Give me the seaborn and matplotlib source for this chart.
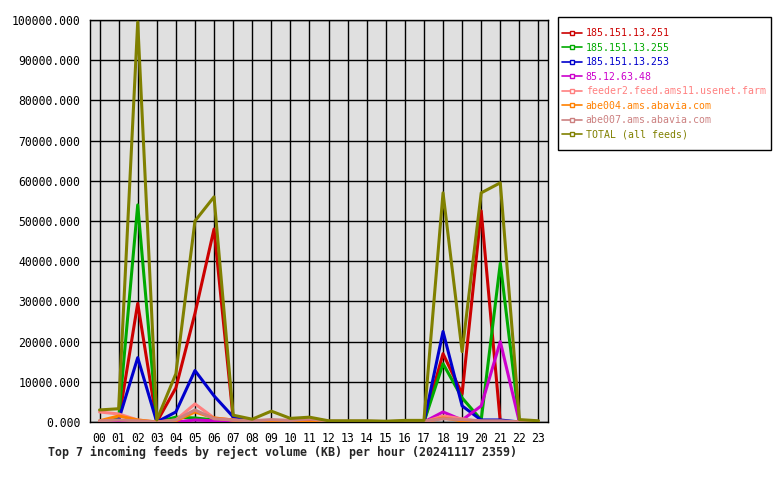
import numpy as np
import pandas as pd
import seaborn as sns
import matplotlib.pyplot as plt
from matplotlib.lines import Line2D
from matplotlib.patches import Rectangle

# hours of the day (x axis)
hours = ["%02d" % h for h in range(24)]

feeds = ["185.151.13.251", "185.151.13.255", "185.151.13.253", "85.12.63.48",
         "feeder2.feed.ams11.usenet.farm", "abe004.ams.abavia.com",
         "abe007.ams.abavia.com", "TOTAL (all feeds)"]
colors = ["#cc0000", "#00aa00", "#0000cc", "#cc00cc",
          "#ff8080", "#ff8000", "#cc8080", "#808000"]

# reject volume in KB per hour
v_251 = [0, 300, 29500, 0, 8500, 27000, 48000, 1000, 0, 0, 0, 0,
         0, 0, 0, 0, 0, 0, 17000, 7000, 52500, 0, 0, 0]
v_255 = [0, 800, 54000, 0, 1200, 1000, 500, 500, 0, 0, 0, 0,
         0, 0, 0, 0, 0, 0, 14500, 6000, 500, 39500, 0, 0]
v_253 = [0, 500, 16000, 0, 2500, 12800, 6500, 1300, 0, 0, 0, 0,
         0, 0, 0, 0, 0, 0, 22500, 4000, 500, 500, 0, 0]
v_85 = [0, 0, 0, 0, 0, 500, 300, 0, 0, 300, 0, 0,
        0, 0, 0, 0, 0, 0, 2500, 500, 4000, 20000, 0, 0]
v_feeder2 = [2500, 2000, 500, 0, 500, 4500, 1000, 500, 0, 0, 0, 0,
             0, 0, 0, 0, 0, 0, 1500, 800, 0, 0, 0, 0]
v_abe004 = [300, 1500, 500, 0, 300, 2500, 1000, 500, 0, 0, 0, 0,
            0, 0, 0, 0, 0, 0, 1000, 300, 0, 0, 0, 0]
v_abe007 = [300, 500, 300, 0, 500, 3000, 800, 500, 300, 600, 400, 800,
            200, 200, 200, 100, 200, 200, 800, 600, 300, 300, 0, 0]
v_total = [3000, 3300, 99500, 500, 12000, 50000, 56000, 1700, 700, 2700, 900, 1200,
           300, 300, 300, 200, 400, 400, 57000, 17500, 57000, 59500, 600, 300]

series = [v_251, v_255, v_253, v_85, v_feeder2, v_abe004, v_abe007, v_total]

rows = []
for name, vals in zip(feeds, series):
    for h, v in enumerate(vals):
        rows.append((name, h, v))
df = pd.DataFrame(rows, columns=["feed", "hour", "kb"])

sns.set_style("white")
plt.rcParams['font.family'] = ['DejaVu Sans Mono']

fig = plt.figure(figsize=(7.8, 4.8), dpi=100)
ax = fig.add_axes([90/780, 1-422/480, 458/780, 402/480])
ax.set_facecolor("#e0e0e0")

sns.lineplot(data=df, x="hour", y="kb", hue="feed", hue_order=feeds,
             palette=colors, linewidth=2.2, legend=False, ax=ax, zorder=3)

ax.set_xlim(-0.5, 23.5)
ax.set_ylim(0, 100000)
ax.set_xticks(range(24))
ax.set_xticklabels(hours)
ax.set_yticks(np.arange(0, 100001, 10000))
ax.set_yticklabels(["%.3f" % y for y in np.arange(0, 100001, 10000)])
ax.grid(True, color="black", linewidth=1)
ax.set_axisbelow(True)
for s in ax.spines.values():
    s.set_color("black")
    s.set_linewidth(1)
ax.tick_params(axis="both", direction="out", length=4, width=1, color="black",
               labelsize=8.3, labelcolor="black", pad=3)
ax.set_xlabel("")
ax.set_ylabel("")

fig.text(283/780, 1-452/480,
         "Top 7 incoming feeds by reject volume (KB) per hour (20241117 2359)",
         ha="center", va="center", fontsize=8.4, fontweight="bold")

# legend box drawn by hand, entries without frame
fig.patches.append(Rectangle((558/780, 1-150/480), 213/780, 133/480,
                             transform=fig.transFigure, facecolor="white",
                             edgecolor="black", linewidth=1, zorder=0))
handles = [Line2D([0], [0], color=c, lw=1.2, marker="s", markersize=2.5,
                  markerfacecolor="white", markeredgecolor=c) for c in colors]
leg = fig.legend(handles, feeds, loc="upper left",
                 bbox_to_anchor=(562/780, 1-28/480), bbox_transform=fig.transFigure,
                 frameon=False, fontsize=7.1, handlelength=2.0, handletextpad=0.4,
                 labelspacing=0.46, borderpad=0, borderaxespad=0)
for t, c in zip(leg.get_texts(), colors):
    t.set_color(c)

fig.savefig("out.png", dpi=100)
